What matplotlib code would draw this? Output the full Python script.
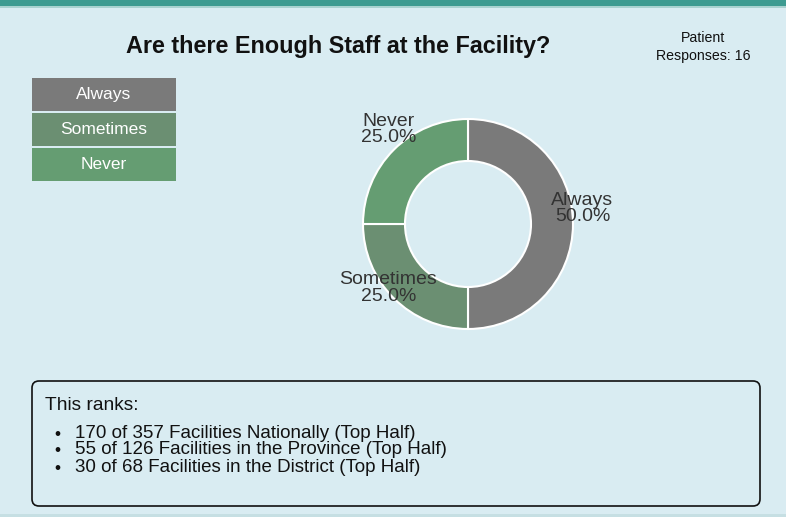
import matplotlib
matplotlib.use('Agg')
import matplotlib.pyplot as plt
from matplotlib.patches import Rectangle, FancyBboxPatch

# chart data
title = 'Are there Enough Staff at the Facility?'
responses = 16
categories = ['Always', 'Sometimes', 'Never']
counts = [8, 4, 4]
colors = ['#7a7a7a', '#6b8f72', '#659d72']

rank_positions = [170, 55, 30]
rank_totals = [357, 126, 68]
rank_scopes = ['Nationally', 'in the Province', 'in the District']
rank_halves = ['Top Half', 'Top Half', 'Top Half']

W, H = 786, 517
BG = '#d9ecf2'


def main():
    plt.rcParams['font.family'] = ['Liberation Sans', 'DejaVu Sans']

    fig = plt.figure(figsize=(W / 100, H / 100), dpi=100, facecolor=BG)

    # overlay axes working in pixel coordinates (y down)
    ov = fig.add_axes([0, 0, 1, 1])
    ov.set_xlim(0, W)
    ov.set_ylim(H, 0)
    ov.axis('off')

    # top band and bottom line
    ov.add_patch(Rectangle((0, 0), W, 6, color='#3d9b91', lw=0))
    ov.add_patch(Rectangle((0, 6), W, 1.5, color='#a9d2d0', lw=0))
    ov.add_patch(Rectangle((0, 514), W, 3, color='#c6dfe3', lw=0))

    # title and response count
    ov.text(338, 47, title, ha='center', va='center', fontsize=16.8,
            fontweight='bold', color='#111111')
    ov.text(703, 47, f'Patient\nResponses: {responses}', ha='center',
            va='center', fontsize=10.2, color='#111111', linespacing=1.35)

    # legend boxes
    row_top = [78, 112.5, 147.5]
    row_h = 34
    for cat, col, y in zip(categories, colors, row_top):
        ov.add_patch(Rectangle((32, y), 144, row_h - 1, color=col, lw=0))
        ov.text(104, y + row_h / 2, cat, ha='center', va='center',
                fontsize=12.5, color='white')

    # donut
    ax = fig.add_axes([363 / W, 1 - 329 / H, 210 / W, 210 / H])
    ax.pie(counts, colors=colors, startangle=90, counterclock=False,
           radius=1, wedgeprops=dict(width=0.4, edgecolor='white', linewidth=1.5))
    ax.set_xlim(-1, 1)
    ax.set_ylim(-1, 1)
    ax.set_facecolor('none')

    total = sum(counts)
    label_pos = [(1.09, 0.15), (-0.76, -0.61), (-0.76, 0.9)]
    for cat, c, (lx, ly) in zip(categories, counts, label_pos):
        ax.text(lx, ly, f'{cat}\n{c / total * 100:.1f}%', ha='center',
                va='center', fontsize=14, color='#333333', linespacing=0.95)

    # ranking box
    box = FancyBboxPatch((32, 381), 728, 125,
                         boxstyle='round,pad=0,rounding_size=7',
                         facecolor='none', edgecolor='#111111', lw=1.2)
    ov.add_patch(box)
    ov.text(45, 406, 'This ranks:', ha='left', va='center', fontsize=13.8,
            color='#111111')
    for i, (p, t, s, h) in enumerate(zip(rank_positions, rank_totals,
                                         rank_scopes, rank_halves)):
        y = 433 + i * 17
        ov.text(54, y + 1, '\u2022', ha='left', va='center', fontsize=12.5,
                color='#111111')
        ov.text(75, y, f'{p} of {t} Facilities {s} ({h})', ha='left',
                va='center', fontsize=13.5, color='#111111')

    fig.savefig('out.png', dpi=100, facecolor=BG)


if __name__ == "__main__":
    main()
